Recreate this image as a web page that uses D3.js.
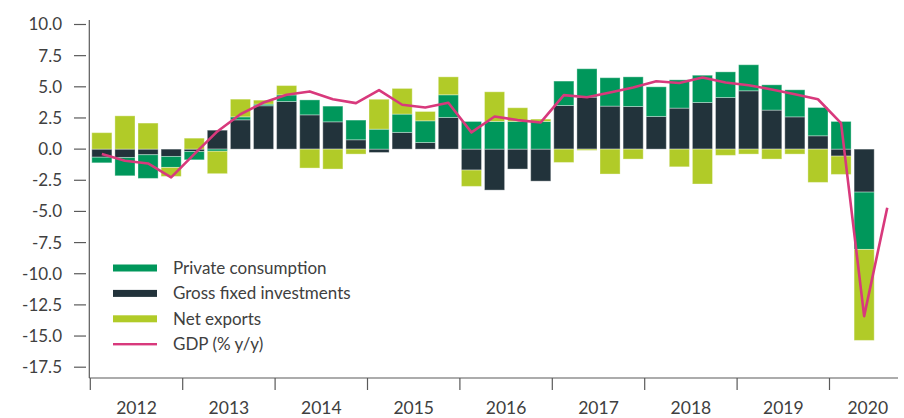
<!DOCTYPE html>
<html>
<head>
<meta charset="utf-8">
<script src="https://cdn.jsdelivr.net/npm/d3@7"></script>
<style>
  body { margin: 0; background: #fff; }
  text { font-family: Lato, "Open Sans", sans-serif; font-weight: 400; fill: #404040; }
</style>
</head>
<body>
<div id="container"></div>
<script>
const width = 904;
const height = 418;

const years = ['2012', '2013', '2014', '2015', '2016', '2017', '2018', '2019', '2020'];
const yTicks = [10, 7.5, 5, 2.5, 0, -2.5, -5, -7.5, -10, -12.5, -15, -17.5];

// quarterly contributions, 2012Q1 .. 2020Q2
const privateConsumption = [
  -0.45, -1.47, -1.9, -0.88,
  -0.67, -0.17, 0.24, 0.13,
  0.53, 1.2, 1.26, 1.58,
  1.6, 1.47, 1.74, 1.82,
  2.22, 2.22, 2.22, 2.22,
  1.96, 2.28, 2.28, 2.38,
  2.38, 2.27, 2.19, 2.06,
  2.09, 2.03, 2.17, 2.27,
  2.22, -4.6
];
const grossFixed = [
  -0.65, -0.67, -0.45, -0.59,
  -0.19, 1.52, 2.35, 3.48,
  3.82, 2.75, 2.19, 0.75,
  -0.27, 1.34, 0.53, 2.54,
  -1.68, -3.29, -1.6, -2.57,
  3.5, 4.17, 3.45, 3.42,
  2.62, 3.29, 3.74, 4.14,
  4.68, 3.13, 2.59, 1.07,
  -0.56, -3.45
];
const netExports = [
  1.32, 2.67, 2.09, -0.72,
  0.88, -1.8, 1.42, 0.32,
  0.75, -1.52, -1.6, -0.4,
  2.4, 2.06, 0.75, 1.44,
  -1.31, 2.38, 1.1, 0.19,
  -1.07, -0.1, -2.0, -0.8,
  0.0, -1.42, -2.8, -0.5,
  -0.4, -0.8, -0.4, -2.67,
  -1.47, -7.3
];
// GDP y/y, 2012Q1 .. 2020Q3
const gdp = [
  -0.4, -0.94, -1.15, -2.27,
  -0.4, 1.42, 2.8, 3.74,
  4.36, 4.63, 4.0, 3.69,
  4.73, 3.56, 3.34, 3.72,
  1.34, 2.62, 2.33, 2.14,
  4.33, 4.16, 4.54, 4.94,
  5.44, 5.3, 5.75, 5.35,
  5.13, 4.79, 4.41, 4.0,
  2.09, -13.4, -4.7
];

const colors = {pc: '#00975b', gfi: '#22333b', ne: '#b1cb28', gdp: '#d8397c'};

const quarters = [];
years.forEach(y => [1, 2, 3, 4].forEach(q => quarters.push(y + 'Q' + q)));

const table = privateConsumption.map((d, i) => ({
  q: quarters[i], pc: d, gfi: grossFixed[i], ne: netExports[i]
}));

const svg = d3.select('#container').append('svg')
  .attr('width', width)
  .attr('height', height);

const x = d3.scaleBand()
  .domain(quarters)
  .range([90.3, 90.3 + 36 * 23.1])
  .paddingInner(0.13)
  .paddingOuter(0.065);

const y = d3.scaleLinear()
  .domain([-17.5, 10])
  .range([367.2, 24.5]);

const xAxisY = 378;
const axisLeft = 89.3;
const axisRight = 898;

// stacked bars
const series = d3.stack()
  .keys(['gfi', 'pc', 'ne'])
  .offset(d3.stackOffsetDiverging)(table);

svg.append('g')
  .selectAll('g')
  .data(series)
  .join('g')
  .attr('fill', d => colors[d.key])
  .selectAll('rect')
  .data(d => d)
  .join('rect')
  .attr('x', d => x(d.data.q))
  .attr('width', x.bandwidth())
  .attr('y', d => y(Math.max(d[0], d[1])))
  .attr('height', d => Math.abs(y(d[0]) - y(d[1])))
  .attr('stroke', '#fff')
  .attr('stroke-opacity', 0.35)
  .attr('stroke-width', 1);

// GDP line
const line = d3.line()
  .x((d, i) => x(quarters[i]) + x.bandwidth() / 2)
  .y(d => y(d));

svg.append('path')
  .datum(gdp)
  .attr('fill', 'none')
  .attr('stroke', colors.gdp)
  .attr('stroke-width', 2.6)
  .attr('stroke-linejoin', 'round')
  .attr('d', line);

// y axis
const axisColor = '#5a5a5a';
svg.append('line')
  .attr('x1', axisLeft).attr('x2', axisLeft)
  .attr('y1', 20).attr('y2', xAxisY)
  .attr('stroke', axisColor).attr('stroke-width', 1.2);

const yt = svg.append('g')
  .selectAll('g')
  .data(yTicks)
  .join('g')
  .attr('transform', d => `translate(0,${y(d)})`);

yt.append('line')
  .attr('x1', 74).attr('x2', 86)
  .attr('stroke', axisColor).attr('stroke-width', 1.2);

yt.append('text')
  .attr('x', 62)
  .attr('dy', '0.35em')
  .attr('text-anchor', 'end')
  .attr('font-size', 17)
  .text(d => d.toFixed(1));

// x axis
svg.append('line')
  .attr('x1', axisLeft).attr('x2', axisRight)
  .attr('y1', xAxisY).attr('y2', xAxisY)
  .attr('stroke', axisColor).attr('stroke-width', 1.2);

const yearStep = x.step() * 4;
const xt = svg.append('g')
  .selectAll('g')
  .data(years)
  .join('g')
  .attr('transform', d => `translate(${x(d + 'Q1') - x.step() * 0.065},0)`);

xt.append('line')
  .attr('y1', xAxisY).attr('y2', xAxisY + 12)
  .attr('stroke', axisColor).attr('stroke-width', 1.2);

xt.append('text')
  .attr('x', (d, i) => i === years.length - 1 ? (axisRight - (x(d + 'Q1') - x.step() * 0.065)) / 2 + 4 : yearStep / 2)
  .attr('y', 408)
  .attr('dy', '0.35em')
  .attr('text-anchor', 'middle')
  .attr('font-size', 17.5)
  .text(d => d);

// legend
const legendItems = [
  {label: 'Private consumption', key: 'pc'},
  {label: 'Gross fixed investments', key: 'gfi'},
  {label: 'Net exports', key: 'ne'},
  {label: 'GDP (% y/y)', key: 'gdp'}
];

const legend = svg.append('g')
  .selectAll('g')
  .data(legendItems)
  .join('g')
  .attr('transform', (d, i) => `translate(113,${268 + i * 25.4})`);

legend.append('rect')
  .attr('y', d => d.key === 'gdp' ? -1.2 : -3.5)
  .attr('width', 44)
  .attr('height', d => d.key === 'gdp' ? 2.4 : 7)
  .attr('fill', d => colors[d.key]);

legend.append('text')
  .attr('x', 60)
  .attr('dy', '0.35em')
  .attr('font-size', 17)
  .text(d => d.label);
</script>
</body>
</html>
